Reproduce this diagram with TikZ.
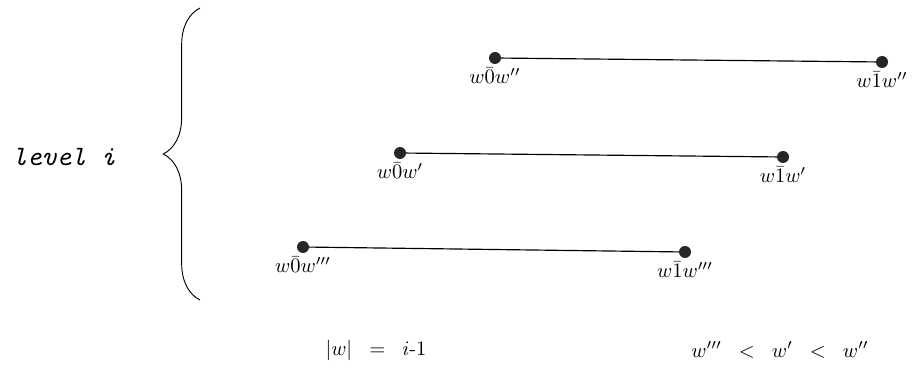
\documentclass[tikz,border=0pt]{standalone}
\usepackage{amsmath}
\usepackage{tikz}
\usetikzlibrary{positioning,decorations.pathreplacing}

\begin{document}
\begin{tikzpicture}[x=0.03cm,y=-0.03cm,
  dot/.style={circle,fill=black!85,inner sep=0pt,minimum size=0.36cm},
  lbl/.style={scale=1.75,inner sep=1pt},
  seg/.style={line width=1pt}]
  \useasboundingbox (0,0) rectangle (924,374);
  % three segments, one per suffix
  \node[dot] (a0) at (495,58) {};
  \node[dot] (a1) at (882,62) {};
  \node[dot] (b0) at (400,153) {};
  \node[dot] (b1) at (783,157) {};
  \node[dot] (c0) at (303,247) {};
  \node[dot] (c1) at (685,252) {};
  \draw[seg] (a0) -- (a1);
  \draw[seg] (b0) -- (b1);
  \draw[seg] (c0) -- (c1);
  % end point labels
  \node[lbl,below=1pt of a0] (a0t) {$w\bar{0}w''$};
  \node[lbl,below=1pt of a1] (a1t) {$w\bar{1}w''$};
  \node[lbl,below=1pt of b0] (b0t) {$w\bar{0}w'$};
  \node[lbl,below=1pt of b1] (b1t) {$w\bar{1}w'$};
  \node[lbl,below=1pt of c0] (c0t) {$w\bar{0}w'''$};
  \node[lbl,below=1pt of c1] (c1t) {$w\bar{1}w'''$};
  % brace and level
  \draw[line width=0.8pt,decorate,decoration={brace,amplitude=1.1cm}] (200,300) -- (200,8);
  \node[scale=2.4,font=\ttfamily\itshape] (lev) at (64,157) {level i};
  % conditions
  \node[lbl] (len) at (376,350) {$|w| \;\;=\;\; i\text{-}1$};
  \node[lbl] (ord) at (780,350) {$w''' \;\;<\;\; w' \;\;<\;\; w''$};
\end{tikzpicture}
\end{document}
